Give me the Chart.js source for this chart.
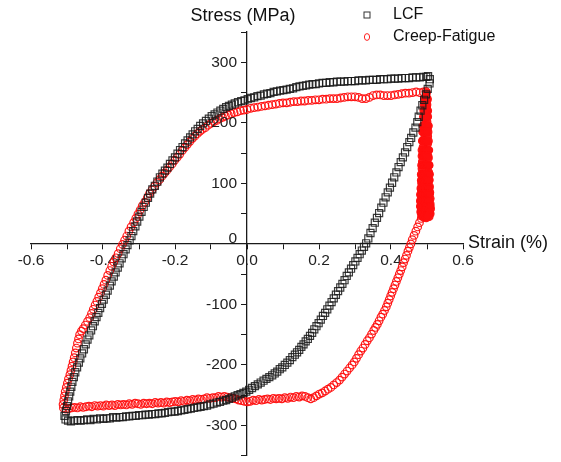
<!DOCTYPE html>
<html>
<head>
<meta charset="utf-8">
<script src="https://cdn.jsdelivr.net/npm/chart.js@4/dist/chart.umd.min.js"></script>
<style>
html,body{margin:0;padding:0;background:#fff;}
canvas{display:block;}
</style>
</head>
<body>
<canvas id="c" width="561" height="462"></canvas>
<script>
// Series names
const seriesNames = ['LCF', 'Creep-Fatigue'];
const xTitle = 'Strain (%)';
const yTitle = 'Stress (MPa)';

// LCF hysteresis loop: [strain %, stress MPa]
const lcfPoints = [
[0.503,277],[0.508,272],[0.507,265],[0.502,256],[0.497,247],[0.492,238],[0.487,229],[0.482,220],[0.477,210],[0.473,201],[0.468,192],
[0.462,184],[0.456,175],[0.451,168],[0.445,160],[0.439,151],[0.433,143],[0.427,135],[0.421,127],[0.415,118],[0.409,110],[0.403,101],
[0.397,93],[0.391,85],[0.385,77],[0.379,68],[0.373,60],[0.367,51],[0.361,43],[0.355,35],[0.349,26],[0.343,18],[0.337,9],[0.331,1],
[0.325,-5],[0.319,-11],[0.313,-17],[0.307,-23],[0.301,-29],[0.295,-35],[0.289,-41],[0.283,-47],[0.277,-53],[0.271,-60],[0.265,-66],
[0.259,-72],[0.253,-78],[0.247,-84],[0.241,-90],[0.235,-96],[0.229,-102],[0.223,-108],[0.217,-114],[0.211,-119],[0.205,-125],
[0.199,-131],[0.193,-136],[0.187,-141],[0.181,-147],[0.175,-152],[0.169,-157],[0.163,-161],[0.157,-166],[0.151,-170],[0.145,-175],
[0.139,-179],[0.133,-183],[0.126,-187],[0.119,-192],[0.112,-196],[0.105,-200],[0.098,-204],[0.091,-207],[0.084,-211],[0.077,-214],
[0.070,-217],[0.062,-220],[0.054,-223],[0.046,-226],[0.038,-229],[0.030,-232],[0.022,-235],[0.014,-238],[0.006,-241],[-0.002,-244],
[-0.010,-246],[-0.018,-248],[-0.026,-250],[-0.034,-252],[-0.042,-254],[-0.050,-256],[-0.058,-258],[-0.066,-259],[-0.075,-261],
[-0.084,-262],[-0.093,-264],[-0.102,-265],[-0.111,-267],[-0.120,-268],[-0.129,-269],[-0.138,-270],[-0.147,-271],[-0.156,-272],
[-0.165,-273],[-0.174,-274],[-0.183,-275],[-0.192,-276],[-0.201,-277],[-0.210,-277],[-0.219,-278],[-0.228,-279],[-0.237,-280],
[-0.246,-280],[-0.255,-281],[-0.264,-281],[-0.273,-282],[-0.282,-282],[-0.291,-283],[-0.300,-283],[-0.309,-284],[-0.318,-284],
[-0.327,-285],[-0.336,-285],[-0.345,-286],[-0.354,-286],[-0.363,-287],[-0.372,-286],[-0.381,-288],[-0.390,-288],[-0.399,-289],
[-0.408,-288],[-0.417,-290],[-0.426,-289],[-0.435,-291],[-0.444,-290],[-0.453,-291],[-0.462,-292],[-0.471,-291],[-0.480,-292],
[-0.489,-293],[-0.497,-292],[-0.504,-290],[-0.507,-284],
[-0.503,-276],[-0.500,-268],[-0.497,-260],[-0.494,-252],[-0.491,-244],[-0.488,-236],[-0.485,-228],[-0.481,-220],[-0.477,-212],
[-0.472,-204],[-0.467,-196],[-0.463,-189],[-0.458,-181],[-0.453,-174],[-0.448,-166],[-0.443,-158],[-0.438,-151],[-0.433,-143],
[-0.428,-136],[-0.423,-128],[-0.418,-121],[-0.413,-114],[-0.408,-106],[-0.403,-99],[-0.398,-92],[-0.392,-84],[-0.387,-77],
[-0.381,-69],[-0.376,-62],[-0.370,-54],[-0.365,-47],[-0.359,-39],[-0.354,-32],[-0.348,-24],[-0.343,-17],[-0.337,-9],[-0.332,-2],
[-0.326,6],[-0.321,13],[-0.316,21],[-0.310,29],[-0.305,37],[-0.299,45],[-0.293,53],[-0.287,61],[-0.281,68],[-0.275,76],[-0.269,83],
[-0.263,90],[-0.256,96],[-0.249,103],[-0.242,110],[-0.235,116],[-0.228,121],[-0.221,126],[-0.214,132],[-0.207,138],[-0.200,143],
[-0.193,149],[-0.186,155],[-0.179,160],[-0.172,166],[-0.165,171],[-0.158,176],[-0.151,181],[-0.144,186],[-0.137,190],[-0.130,195],
[-0.122,199],[-0.114,203],[-0.106,207],[-0.098,211],[-0.090,214],[-0.082,217],[-0.074,220],[-0.066,223],[-0.058,226],[-0.050,228],
[-0.042,230],[-0.034,232],[-0.025,234],[-0.016,236],[-0.007,237],[0.002,239],
[0.011,241],[0.020,242],[0.029,244],[0.038,245],[0.047,247],[0.056,248],[0.065,249],[0.074,251],[0.083,252],[0.092,253],[0.101,254],
[0.110,255],[0.119,256],[0.128,257],[0.137,259],[0.146,260],[0.155,261],[0.164,262],[0.173,263],[0.182,264],[0.191,264],[0.200,265],
[0.210,266],[0.220,266],[0.230,267],[0.240,267],[0.250,268],[0.260,268],[0.270,268],[0.280,269],[0.290,269],[0.300,269],[0.310,270],
[0.320,270],[0.330,270],[0.340,271],[0.350,271],[0.360,271],[0.370,272],[0.380,272],[0.390,272],[0.400,273],[0.410,273],[0.420,273],
[0.430,274],[0.440,274],[0.450,274],[0.460,275],[0.470,275],[0.480,275],[0.490,276],[0.498,276]
];

// Creep-Fatigue: stress relaxation hold at maximum strain: [strain %, stress MPa]
const cfHoldPoints = [
[0.499,250],[0.497,244],[0.501,238],[0.495,232],[0.499,226],[0.494,220],[0.500,214],[0.493,208],[0.500,202],[0.492,196],[0.501,190],
[0.491,184],[0.502,178],[0.490,172],[0.502,166],[0.489,160],[0.503,154],[0.488,148],[0.504,142],[0.487,136],[0.505,130],[0.486,124],
[0.505,118],[0.486,112],[0.506,106],[0.485,100],[0.507,95],[0.484,90],[0.508,85],[0.483,80],[0.509,75],[0.482,70],[0.509,66],
[0.482,62],[0.510,58],[0.483,54],[0.509,50],[0.485,47],[0.506,45],[0.490,44],[0.498,43],
[0.493,240],[0.497,240],[0.501,240],[0.492,230],[0.496,230],[0.500,230],[0.491,220],[0.495,220],[0.499,220],[0.502,220],
[0.490,210],[0.494,210],[0.498,210],[0.502,210],[0.489,195],[0.493,195],[0.497,195],[0.501,195],[0.504,195],
[0.488,185],[0.492,185],[0.498,185],[0.503,185],[0.487,170],[0.491,170],[0.495,170],[0.499,170],[0.504,170],
[0.486,155],[0.491,155],[0.496,155],[0.500,155],[0.505,155],[0.486,145],[0.490,145],[0.494,145],[0.499,145],[0.503,145],
[0.485,130],[0.489,130],[0.494,130],[0.498,130],[0.503,130],[0.506,130],[0.484,115],[0.489,115],[0.493,115],[0.498,115],[0.502,115],[0.507,115],
[0.484,105],[0.488,105],[0.493,105],[0.497,105],[0.502,105],[0.506,105],[0.483,92],[0.488,92],[0.492,92],[0.497,92],[0.501,92],[0.506,92],
[0.482,82],[0.487,82],[0.492,82],[0.497,82],[0.502,82],[0.507,82],[0.482,72],[0.487,72],[0.492,72],[0.496,72],[0.501,72],[0.506,72],
[0.482,62],[0.486,62],[0.491,62],[0.496,62],[0.500,62],[0.505,62],[0.509,62],[0.483,52],[0.488,52],[0.493,52],[0.498,52],[0.503,52],[0.507,52],
[0.487,46],[0.492,46],[0.497,46],[0.502,46]
];

// Creep-Fatigue: rest of the hysteresis loop: [strain %, stress MPa]
const cfLoopPoints = [
[0.484,42],[0.479,35],[0.474,28],[0.469,21],[0.464,14],[0.459,7],[0.455,0],[0.451,-6],[0.447,-12],[0.443,-19],[0.439,-25],
[0.435,-31],[0.431,-38],[0.427,-44],[0.423,-50],[0.419,-56],[0.415,-62],[0.411,-68],[0.407,-74],[0.403,-80],[0.399,-86],[0.395,-92],
[0.391,-98],[0.387,-104],[0.382,-110],[0.377,-116],[0.372,-121],[0.367,-127],[0.362,-133],[0.357,-138],[0.352,-143],[0.346,-149],
[0.340,-155],[0.334,-160],[0.328,-166],[0.322,-172],[0.316,-177],[0.310,-183],[0.304,-189],[0.298,-195],[0.292,-200],[0.285,-205],
[0.278,-210],[0.271,-215],[0.264,-220],[0.257,-225],[0.249,-229],[0.241,-233],[0.233,-237],[0.225,-240],[0.217,-243],[0.209,-246],
[0.201,-248],[0.193,-251],[0.185,-254],[0.177,-256],[0.169,-254],[0.161,-252],[0.153,-251],[0.145,-253],[0.137,-252],[0.129,-254],
[0.121,-253],[0.113,-255],[0.105,-254],[0.097,-256],[0.089,-255],[0.081,-256],[0.073,-255],[0.065,-257],[0.057,-256],[0.049,-257],
[0.041,-258],[0.033,-257],[0.025,-259],[0.017,-258],[0.009,-260],[0.001,-261],[-0.007,-260],[-0.015,-259],[-0.023,-258],
[-0.031,-256],[-0.039,-255],[-0.047,-254],[-0.055,-253],[-0.063,-252],[-0.071,-253],[-0.079,-252],[-0.087,-254],
[-0.095,-254],[-0.103,-255],[-0.111,-254],[-0.119,-256],[-0.127,-257],[-0.135,-256],[-0.143,-258],[-0.151,-257],[-0.159,-259],
[-0.167,-258],[-0.175,-260],[-0.183,-259],[-0.191,-261],[-0.199,-260],[-0.207,-261],[-0.215,-262],[-0.223,-261],[-0.231,-263],
[-0.239,-262],[-0.247,-263],[-0.255,-262],[-0.263,-264],[-0.271,-263],[-0.279,-264],[-0.287,-263],[-0.295,-265],[-0.303,-264],
[-0.311,-263],[-0.319,-265],[-0.327,-264],[-0.335,-266],[-0.343,-265],[-0.351,-266],[-0.359,-265],[-0.367,-267],[-0.375,-266],
[-0.383,-267],[-0.391,-266],[-0.399,-268],[-0.407,-267],[-0.415,-268],[-0.423,-267],[-0.431,-269],[-0.439,-268],[-0.447,-269],
[-0.455,-270],[-0.463,-269],[-0.471,-271],[-0.479,-270],[-0.487,-271],[-0.495,-272],[-0.503,-273],[-0.510,-271],[-0.511,-265],
[-0.509,-258],[-0.507,-251],[-0.505,-244],[-0.502,-237],[-0.499,-230],[-0.496,-223],[-0.492,-216],[-0.489,-209],[-0.486,-202],
[-0.483,-195],[-0.480,-188],[-0.477,-180],[-0.474,-172],[-0.471,-164],[-0.468,-157],[-0.465,-150],[-0.460,-144],[-0.455,-140],
[-0.449,-134],[-0.443,-128],[-0.437,-122],[-0.432,-115],[-0.427,-108],[-0.422,-101],[-0.417,-95],[-0.412,-88],[-0.407,-81],
[-0.402,-74],[-0.397,-67],[-0.392,-60],[-0.387,-52],[-0.381,-44],[-0.376,-37],[-0.370,-30],[-0.364,-23],[-0.358,-16],[-0.352,-8],
[-0.346,-1],[-0.340,6],[-0.334,13],[-0.328,21],[-0.322,28],[-0.315,35],[-0.309,42],[-0.303,49],[-0.297,56],[-0.291,63],[-0.284,69],
[-0.277,76],[-0.271,83],[-0.264,89],[-0.257,95],[-0.250,101],[-0.243,106],[-0.236,112],[-0.229,117],[-0.222,122],[-0.215,127],
[-0.208,132],[-0.201,138],[-0.194,143],[-0.187,148],[-0.180,154],[-0.173,159],[-0.166,164],[-0.159,169],[-0.152,174],[-0.145,178],
[-0.138,182],[-0.131,186],[-0.124,189],[-0.116,192],[-0.108,196],[-0.100,199],[-0.092,202],[-0.084,204],[-0.076,207],[-0.068,209],
[-0.060,211],[-0.052,213],[-0.044,215],[-0.036,217],[-0.027,218],[-0.018,220],[-0.009,221],[0.000,222],
[0.010,224],[0.020,225],[0.030,226],[0.040,227],[0.050,228],[0.060,229],[0.070,230],[0.080,231],[0.090,232],[0.100,233],[0.110,233],
[0.120,234],[0.130,235],[0.140,235],[0.150,236],[0.160,236],[0.170,237],[0.180,237],[0.190,238],[0.200,238],[0.210,239],[0.220,239],
[0.230,240],[0.240,240],[0.250,240],[0.260,241],[0.270,242],[0.280,243],[0.290,243],[0.300,243],[0.310,242],[0.320,240],[0.330,240],
[0.340,242],[0.350,245],[0.360,246],[0.370,246],[0.380,245],[0.390,245],[0.400,245],[0.410,246],[0.420,247],[0.430,248],[0.440,249],
[0.450,249],[0.460,250],[0.470,251],[0.480,250],[0.490,251],[0.497,252]
];

// Axis ranges and tick steps
const xRange = [-0.6, 0.6];
const yRange = [-350, 350];
const xStep = 0.1;
const yStep = 50;

const toXY = arr => arr.map(p => ({x: p[0], y: p[1]}));
const FONT = '"Liberation Sans", Arial, sans-serif';
const AXIS_COLOR = '#1a1a1a';
const RED = 'rgba(255,15,15,0.95)';
const yLabelFor = v => (Math.round(v) % 100 === 0 ? String(Math.round(v)) : '');

const textPlugin = {
  id: 'texts',
  afterDraw(chart) {
    const ctx = chart.ctx;
    const xs = chart.scales.x, ys = chart.scales.y;
    const x0 = xs.getPixelForValue(0), y0 = ys.getPixelForValue(0);
    ctx.save();
    // y tick labels, to the left of the y axis
    ctx.fillStyle = '#222';
    ctx.font = '15.5px ' + FONT;
    ctx.textAlign = 'right';
    ctx.textBaseline = 'middle';
    ys.ticks.forEach(t => {
      const lab = yLabelFor(t.value);
      if (lab) ctx.fillText(lab, x0 - 10, ys.getPixelForValue(t.value) + (t.value === 0 ? -5 : 0));
    });
    ctx.fillStyle = '#111';
    ctx.font = '18px ' + FONT;
    ctx.textAlign = 'left';
    ctx.fillText(xTitle, chart.chartArea.right + 5, y0 - 1);
    ctx.textAlign = 'center';
    ctx.fillText(yTitle, x0 - 4, 16);
    // legend
    ctx.font = '16px ' + FONT;
    ctx.textAlign = 'left';
    ctx.fillText(seriesNames[0], 393, 15);
    ctx.fillText(seriesNames[1], 393, 37);
    ctx.lineWidth = 1;
    ctx.strokeStyle = '#333';
    ctx.strokeRect(364, 12, 6, 6);
    ctx.strokeStyle = '#ff2020';
    ctx.beginPath();
    ctx.ellipse(367, 37, 2.6, 3.4, 0, 0, Math.PI * 2);
    ctx.stroke();
    ctx.restore();
  }
};

new Chart(document.getElementById('c'), {
  type: 'scatter',
  data: {
    datasets: [
      {
        label: seriesNames[0],
        data: toXY(lcfPoints),
        pointStyle: 'rect',
        pointRadius: 5,
        borderWidth: 1.2,
        borderColor: 'rgba(25,25,25,0.85)',
        backgroundColor: 'rgba(0,0,0,0)',
        showLine: false
      },
      {
        label: seriesNames[1],
        data: toXY(cfLoopPoints),
        pointStyle: 'circle',
        pointRadius: 3.8,
        borderWidth: 1.2,
        borderColor: RED,
        backgroundColor: 'rgba(0,0,0,0)',
        showLine: false
      },
      {
        label: seriesNames[1] + ' (hold)',
        data: toXY(cfHoldPoints),
        pointStyle: 'circle',
        pointRadius: 3.8,
        borderWidth: 1.2,
        borderColor: RED,
        backgroundColor: RED,
        showLine: false
      }
    ]
  },
  options: {
    responsive: false,
    animation: false,
    events: [],
    layout: { padding: { left: 31, right: 98, top: 32, bottom: 0 } },
    plugins: { legend: { display: false }, tooltip: { enabled: false } },
    scales: {
      x: {
        type: 'linear',
        min: xRange[0], max: xRange[1],
        position: { y: 0 },
        ticks: {
          stepSize: xStep, autoSkip: false, maxRotation: 0, padding: 3,
          color: '#222', font: { family: FONT, size: 15.5 },
          callback: v => (Math.round(v * 10) % 2 === 0 ? (Math.round(v * 10) / 10).toFixed(1) : '')
        },
        grid: { drawOnChartArea: false, drawTicks: true, tickLength: 5, color: AXIS_COLOR, lineWidth: 1 },
        border: { display: true, color: AXIS_COLOR, width: 1.3 },
        afterFit: s => { s.paddingLeft = 0; s.paddingRight = 0; }
      },
      y: {
        type: 'linear',
        min: yRange[0], max: yRange[1],
        position: { x: 0 },
        ticks: {
          stepSize: yStep, autoSkip: false, display: false,
          callback: yLabelFor
        },
        grid: { drawOnChartArea: false, drawTicks: true, tickLength: 5, color: AXIS_COLOR, lineWidth: 1 },
        border: { display: true, color: AXIS_COLOR, width: 1.3 },
        afterFit: s => { s.paddingTop = 0; s.paddingBottom = 0; }
      }
    }
  },
  plugins: [textPlugin]
});
</script>
</body>
</html>
